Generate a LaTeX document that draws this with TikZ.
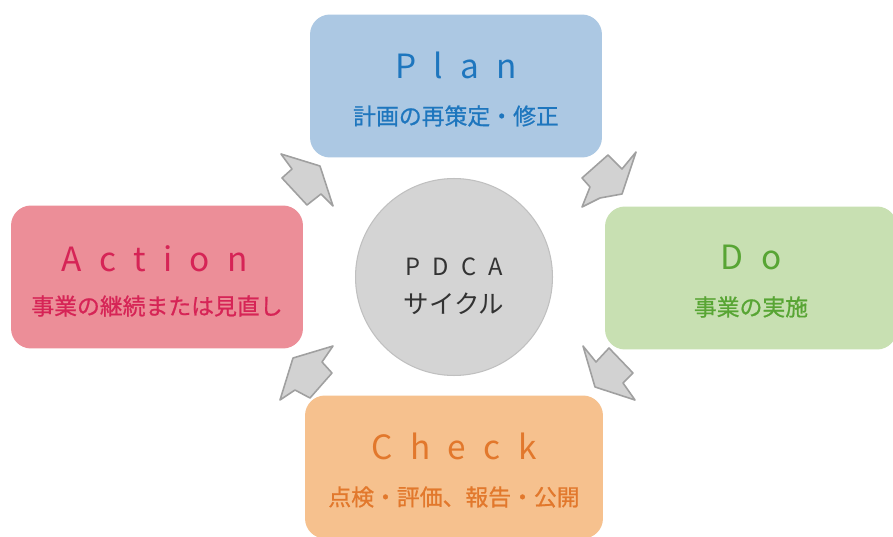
\documentclass[tikz,border=0pt]{standalone}
\usepackage{fontspec}
\setmainfont{Noto Sans CJK JP}
\newfontfamily\spacedfont{Noto Sans CJK JP}[LetterSpace=52]
\newfontfamily\subfont{Noto Sans CJK JP}[FakeBold=0.8]
\definecolor{planfill}{RGB}{172,200,227}
\definecolor{plantext}{RGB}{30,118,190}
\definecolor{dofill}{RGB}{200,224,178}
\definecolor{dotext}{RGB}{88,165,52}
\definecolor{checkfill}{RGB}{246,193,142}
\definecolor{checktext}{RGB}{226,120,44}
\definecolor{actfill}{RGB}{236,142,152}
\definecolor{acttext}{RGB}{214,36,86}
\definecolor{cycfill}{RGB}{212,212,212}
\definecolor{cycline}{RGB}{192,192,192}
\definecolor{arrfill}{RGB}{210,210,210}
\definecolor{arrline}{RGB}{160,160,160}
\tikzset{
  box/.style={rounded corners=0.4cm,minimum width=5.84cm,minimum height=2.86cm,inner sep=0pt},
  ttl/.style={font=\spacedfont\fontsize{19}{22}\selectfont,inner sep=0pt},
  sub/.style={font=\subfont\fontsize{13}{15}\selectfont,inner sep=0pt},
  blockarr/.style={fill=arrfill,draw=arrline,line width=0.9pt,line join=round}
}
\begin{document}
\begin{tikzpicture}[x=0.02cm,y=-0.02cm]
\useasboundingbox[fill=white](0,0) rectangle (893,537);
% four boxes
\node[box,fill=planfill](plan) at (456,86){};
\node[box,fill=dofill](do) at (751,278){};
\node[box,fill=checkfill,minimum width=5.96cm](check) at (454,467){};
\node[box,fill=actfill](act) at (157,277){};
\node[ttl,text=plantext](planttl) at ([yshift=0.42cm]plan.center){Plan};
\node[sub,text=plantext](plansub) at ([yshift=-0.6cm]plan.center){計画の再策定・修正};
\node[ttl,text=dotext](dottl) at ([yshift=0.42cm]do.center){Do};
\node[sub,text=dotext](dosub) at ([yshift=-0.58cm]do.center){事業の実施};
\node[ttl,text=checktext](checkttl) at ([yshift=0.42cm]check.center){Check};
\node[sub,text=checktext](checksub) at ([yshift=-0.6cm]check.center){点検・評価、報告・公開};
\node[ttl,text=acttext](actttl) at ([xshift=-0.05cm,yshift=0.36cm]act.center){Action};
\node[sub,text=acttext](actsub) at ([yshift=-0.58cm]act.center){事業の継続または見直し};
% centre
\node[circle,fill=cycfill,draw=cycline,line width=0.6pt,minimum size=3.94cm](cyc) at (454,277){};
\node[font=\spacedfont\fontsize{13.5}{15}\selectfont,text=black!80,inner sep=0pt](cycttl) at ([yshift=0.2cm]cyc.center){PDCA};
\node[font=\fontsize{14.5}{16}\selectfont,text=black!80,inner sep=0pt](cycsub) at ([yshift=-0.54cm]cyc.center){サイクル};
% arrows
\draw[blockarr](281,154)--(320,166)--(333,206)--(321,194)--(307,205)--(282,178)--(292,169)--cycle;
\draw[blockarr](608,155)--(622,169)--(636,152)--(622,194)--(600,198)--(582,207)--(590,187)--(582,178)--cycle;
\draw[blockarr](583,346)--(596,362)--(609,348)--(633,373)--(623,383)--(635,400)--(595,387)--cycle;
\draw[blockarr](333,346)--(322,362)--(332,373)--(310,398)--(295,390)--(280,400)--(293,358)--cycle;
\end{tikzpicture}
\end{document}
